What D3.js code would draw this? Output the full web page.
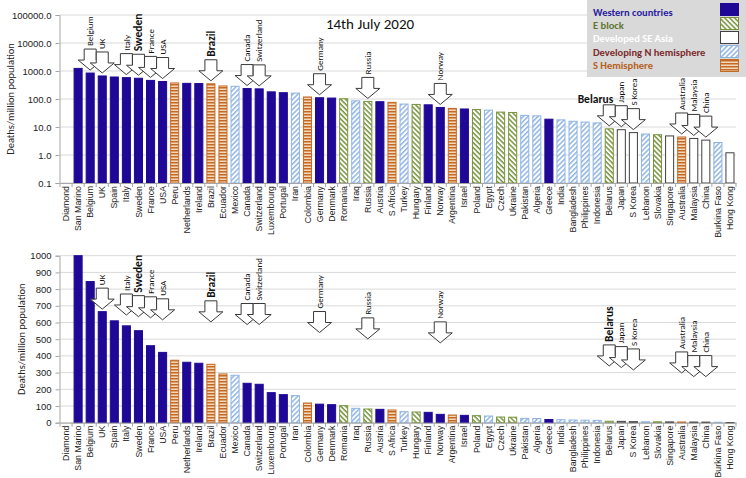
<!DOCTYPE html>
<html><head><meta charset="utf-8">
<script src="https://cdn.jsdelivr.net/npm/d3@7"></script>
<style>
body{margin:0;background:#fff;}
svg{display:block;font-family:Carlito,Lato,"Liberation Sans",sans-serif;}
</style></head><body>
<svg id="c" width="746" height="478"></svg>
<script>
// ---------- DATA ----------
const countries = ["Diamond","San Marino","Belgium","UK","Spain","Italy","Sweden","France","USA","Peru",
 "Netherlands","Ireland","Brazil","Ecuador","Mexico","Canada","Switzerland","Luxembourg","Portugal","Iran",
 "Colombia","Germany","Denmark","Romania","Iraq","Russia","Austria","S Africa","Turkey","Hungary",
 "Finland","Norway","Argentina","Israel","Poland","Egypt","Czech","Ukraine","Pakistan","Algeria",
 "Greece","India","Bangladesh","Philippines","Indonesia","Belarus","Japan","S Korea","Lebanon","Slovakia",
 "Singapore","Australia","Malaysia","China","Burkina Faso","Hong Kong"];
const groups = ["A","W","W","W","W","W","W","W","W","S",
 "W","W","S","S","N","W","W","W","W","N",
 "S","W","W","E","N","E","W","S","N","E",
 "W","W","S","W","E","N","E","E","N","N",
 "W","N","N","N","N","E","A","A","N","E",
 "A","S","A","A","N","A"];
const deathsPerMillion = [null,1238,845,665,610,580,551,461,421,374,
 362,356,350,292,284,236,230,180,168,162,
 118,111,108,102,86,82,80,76,66,64,
 62,50,46,44,42,40,34,33,26,25,
 19,18,16,15,14,8.6,8.0,6.3,5.6,5.3,
 4.8,4.4,3.9,3.4,2.8,1.2];
const legendKeys = ["W","E","A","N","S"];
const legendLabels = ["Western countries","E block","Developed SE Asia","Developing N hemisphere","S Hemisphere"];
const logTicks = [0.1,1,10,100,1000,10000,100000];
const linTicks = [0,100,200,300,400,500,600,700,800,900,1000];
const titleText = "14th July 2020";
const yTitle = "Deaths/million population";
const boldLabels = ["Sweden","Brazil","Belarus"];
const topArrows = ["Belgium","UK","Italy","Sweden","France","USA","Brazil","Canada","Switzerland","Germany","Russia","Norway","Belarus","Japan","S Korea","Australia","Malaysia","China"];
const bottomArrows = ["UK","Italy","Sweden","France","USA","Brazil","Canada","Switzerland","Germany","Russia","Norway","Belarus","Japan","S Korea","Australia","Malaysia","China"];
const bottomArrowTips = [680,645,635,628,616,604,588,588,540,502,478,340,330,316,298,276,276];

// ---------- STYLE ----------
const fills = {W:"#200896",E:"url(#pE)",A:"#ffffff",N:"url(#pN)",S:"url(#pS)"};
const strokes = {W:"#200896",E:"#77933c",A:"#404040",N:"#8eb4e3",S:"#c46a24"};
const legendText = {W:"#2a1ca0",E:"#5f7530",A:"#ffffff",N:"#7b2c2c",S:"#b5611d"};

const svg = d3.select("#c");
const defs = svg.append("defs");
function stripePattern(id, color, angle, size, lw, bg){
  const p = defs.append("pattern").attr("id",id).attr("patternUnits","userSpaceOnUse")
    .attr("width",size).attr("height",size).attr("patternTransform",`rotate(${angle})`);
  p.append("rect").attr("width",size).attr("height",size).attr("fill",bg);
  p.append("rect").attr("width",size).attr("height",lw).attr("fill",color);
}
stripePattern("pE","#77933c",45,3.5,1.5,"#ffffff");
stripePattern("pN","#8eb4e3",-45,3.5,1.5,"#ffffff");
stripePattern("pS","#c46a24",0,3,1.5,"#f3d7bb");

const x = d3.scaleBand().domain(countries).range([60,736]).paddingInner(0.25).paddingOuter(0.125);
const yLog = d3.scaleLog().domain([0.1,100000]).range([183,15]);
const yLin = d3.scaleLinear().domain([0,1000]).range([422.7,255.7]).clamp(true);
const data = countries.map((c,i)=>({c, g:groups[i], v:deathsPerMillion[i]}));

function panel(y, ticks, fmt, base, titleX){
  const g = svg.append("g");
  g.selectAll("line.grid").data(ticks).join("line")
    .attr("x1",60).attr("x2",736).attr("y1",d=>y(d)).attr("y2",d=>y(d))
    .attr("stroke","#d9d9d9").attr("stroke-width",1);
  const ax = g.append("g").attr("transform","translate(59.5,0)")
    .call(d3.axisLeft(y).tickValues(ticks).tickFormat(fmt).tickSize(4).tickPadding(4));
  ax.select(".domain").attr("stroke","#a6a6a6");
  ax.selectAll(".tick line").attr("stroke","#a6a6a6");
  ax.selectAll("text").attr("font-size",9.5).attr("fill","#222");
  g.selectAll("rect.bar").data(data.filter(d=>d.v!=null)).join("rect")
    .attr("x",d=>x(d.c)+0.5).attr("width",x.bandwidth()-1)
    .attr("y",d=>y(d.v)).attr("height",d=>Math.max(0.5,y(base)-y(d.v)))
    .attr("fill",d=>fills[d.g]).attr("stroke",d=>strokes[d.g]).attr("stroke-width",1);
  const yb = y(base);
  const xa = g.append("g").attr("transform",`translate(0,${yb})`)
    .call(d3.axisBottom(x).tickSize(0).tickPadding(0));
  xa.select(".domain").attr("stroke","#a6a6a6");
  xa.selectAll("text").attr("transform","rotate(-90)").attr("text-anchor","end")
    .attr("x",-3).attr("y",0).attr("dy","0.35em").attr("font-size",8.8).attr("fill","#222");
  g.selectAll("line.xt").data(d3.range(countries.length+1)).join("line")
    .attr("x1",i=>x.range()[0]+i*x.step()).attr("x2",i=>x.range()[0]+i*x.step())
    .attr("y1",yb).attr("y2",yb+4).attr("stroke","#a6a6a6");
  const ym = (y.range()[0]+y.range()[1])/2;
  svg.append("text").attr("transform",`translate(${titleX},${ym}) rotate(-90)`)
    .attr("text-anchor","middle").attr("font-size",10.5).attr("fill","#222").text(yTitle);
  return g;
}
panel(yLog, logTicks, d3.format(".1f"), 0.1, 14);
panel(yLin, linTicks, d3.format("d"), 0, 25);

function arrow(tx, ty){
  return `M${tx-6},${ty-21}L${tx+6},${ty-21}L${tx+6},${ty-10}L${tx+12},${ty-10}L${tx},${ty}L${tx-12},${ty-10}L${tx-6},${ty-10}Z`;
}
function drawArrows(names, tipY, horizontalBelarus){
  names.forEach((n,i)=>{
    const tx = x(n)+x.bandwidth()/2, ty = tipY(n,i);
    svg.append("path").attr("d",arrow(tx,ty)).attr("fill","#fff").attr("stroke","#3a3a3a").attr("stroke-width",1);
    const bold = boldLabels.includes(n);
    if(horizontalBelarus && n==="Belarus"){
      svg.append("text").attr("x",tx+4).attr("y",ty-23).attr("text-anchor","end")
        .attr("font-size",11.5).attr("font-weight","bold").attr("fill","#111").text(n);
    } else {
      svg.append("text").attr("transform",`translate(${tx},${ty-24}) rotate(-90)`)
        .attr("dy","0.35em").attr("text-anchor","start")
        .attr("font-size",bold?11.5:9).attr("font-weight",bold?"bold":"normal").attr("fill","#111").text(n);
    }
  });
}
const valOf = n => deathsPerMillion[countries.indexOf(n)];
drawArrows(topArrows, (n)=>yLog(valOf(n))-3, true);
drawArrows(bottomArrows, (n,i)=>yLin(bottomArrowTips[i]), false);

svg.append("text").attr("x",370).attr("y",29).attr("text-anchor","middle").attr("font-size",15).attr("fill","#111").text(titleText);

const lg = svg.append("g");
lg.append("rect").attr("x",587).attr("y",0).attr("width",159).attr("height",77).attr("fill","#d9d9d9");
legendKeys.forEach((k,i)=>{
  lg.append("text").attr("x",593).attr("y",16+i*13.2).attr("font-size",10.5).attr("font-weight","bold")
    .attr("fill",legendText[k]).text(legendLabels[i]);
  lg.append("rect").attr("x",720.5).attr("y",3.5+i*14).attr("width",18).attr("height",12)
    .attr("fill",fills[k]).attr("stroke",strokes[k]);
});
</script></body></html>
